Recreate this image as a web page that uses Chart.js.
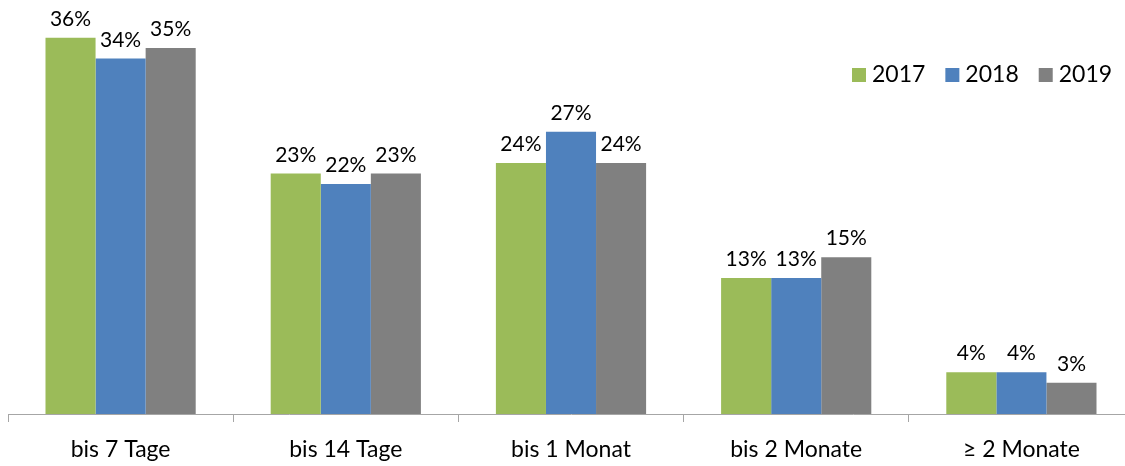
<!DOCTYPE html>
<html>
<head>
<meta charset="utf-8">
<script src="https://cdn.jsdelivr.net/npm/chart.js"></script>
<style>
  html, body { margin: 0; padding: 0; background: #fff; overflow: hidden; }
  #wrap { width: 1125px; height: 466px; overflow: hidden; }
</style>
</head>
<body>
<div id="wrap"><canvas id="grafico" width="1134" height="466"></canvas></div>
<script>
const kategorien = ['bis 7 Tage', 'bis 14 Tage', 'bis 1 Monat', 'bis 2 Monate', '≥ 2 Monate'];
const jahre = ['2017', '2018', '2019'];
const werte2017 = [36, 23, 24, 13, 4];
const werte2018 = [34, 22, 27, 13, 4];
const werte2019 = [35, 23, 24, 15, 3];
const farben = ['#9bbb59', '#4f81bd', '#808080'];

const schrift = 'Lato, "Open Sans", sans-serif';

// Prozentwerte über jedem Balken
const wertLabels = {
  id: 'wertLabels',
  afterDatasetsDraw(chart) {
    const ctx = chart.ctx;
    ctx.save();
    ctx.font = '21px ' + schrift;
    ctx.fillStyle = '#000';
    ctx.textAlign = 'center';
    ctx.textBaseline = 'alphabetic';
    chart.data.datasets.forEach((ds, i) => {
      chart.getDatasetMeta(i).data.forEach((bar, j) => {
        ctx.fillText(ds.data[j] + '%', bar.x, bar.y - 12);
      });
    });
    ctx.restore();
  }
};

// Legende oben rechts im Diagrammbereich
const legendeRechts = {
  id: 'legendeRechts',
  afterDraw(chart) {
    const ctx = chart.ctx;
    ctx.save();
    ctx.font = '23px ' + schrift;
    ctx.textBaseline = 'middle';
    let x = 852;
    const y = 75;
    chart.data.datasets.forEach(ds => {
      ctx.fillStyle = ds.backgroundColor;
      ctx.fillRect(x, y - 7, 14, 14);
      ctx.fillStyle = '#000';
      ctx.fillText(ds.label, x + 20, y);
      x += 20 + ctx.measureText(ds.label).width + 20;
    });
    ctx.restore();
  }
};

new Chart(document.getElementById('grafico'), {
  type: 'bar',
  data: {
    labels: kategorien,
    datasets: [
      { label: jahre[0], data: werte2017, backgroundColor: farben[0] },
      { label: jahre[1], data: werte2018, backgroundColor: farben[1] },
      { label: jahre[2], data: werte2019, backgroundColor: farben[2] }
    ]
  },
  options: {
    responsive: false,
    animation: false,
    layout: { padding: { left: 8, top: 0, right: 0, bottom: 0 } },
    datasets: { bar: { categoryPercentage: 0.667, barPercentage: 1, borderWidth: 0 } },
    plugins: {
      legend: { display: false },
      tooltip: { enabled: false }
    },
    scales: {
      x: {
        afterFit(scale) { scale.height = 52; },
        grid: { offset: true, drawOnChartArea: false, tickLength: 8, color: '#a6a6a6' },
        border: { color: '#a6a6a6', width: 1 },
        ticks: { color: '#000', padding: 14, font: { family: schrift, size: 23 } }
      },
      y: {
        display: false,
        min: 0,
        max: 39.6
      }
    }
  },
  plugins: [wertLabels, legendeRechts]
});
</script>
</body>
</html>
